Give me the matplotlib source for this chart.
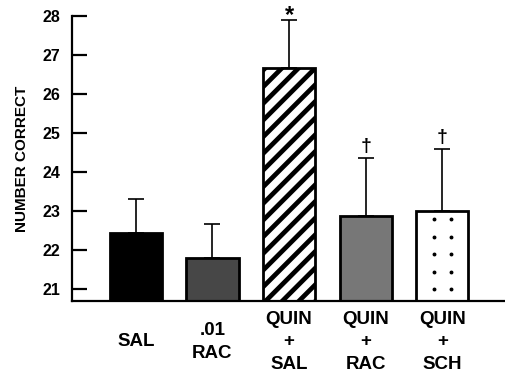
import numpy as np
import matplotlib
matplotlib.use("Agg")
import matplotlib.pyplot as plt

plt.rcParams["font.family"] = ["Liberation Sans", "DejaVu Sans"]
plt.rcParams["font.weight"] = "bold"
plt.rcParams["hatch.linewidth"] = 3.4

# values
groups = ["SAL", ".01\nRAC", "QUIN\n+\nSAL", "QUIN\n+\nRAC", "QUIN\n+\nSCH"]
means = [22.44, 21.80, 26.67, 22.87, 23.00]
sems = [0.87, 0.87, 1.23, 1.49, 1.60]
marks = ["", "", "*", "\u2020", "\u2020"]
yticks = [21, 22, 23, 24, 25, 26, 27, 28]

faces = ["black", "#474747", "white", "#777777", "white"]
hatches = [None, None, "//", None, None]
BASE = 20.7

fig = plt.figure(figsize=(5.06, 3.72), dpi=100)
ax = fig.add_axes([0.142, 0.191, 0.858, 0.766])

x = list(range(len(groups)))
for i in x:
    ax.bar(i, means[i] - BASE, bottom=BASE, width=0.68, color=faces[i],
           edgecolor="black", linewidth=2, hatch=hatches[i], zorder=2)
    ax.errorbar(i, means[i], yerr=[[0], [sems[i]]], color="black",
                capsize=5.5, capthick=1.2, elinewidth=1.2, zorder=1)
    if marks[i] == "*":
        ax.text(i, means[i] + sems[i] + 0.1, marks[i], ha="center", va="center",
                fontsize=17, fontweight="bold", clip_on=False)
    elif marks[i]:
        ax.text(i, means[i] + sems[i] + 0.08, marks[i], ha="center", va="bottom",
                fontsize=14, fontweight="bold", clip_on=False)

# sparse dot stipple on the last bar
rows = np.arange(21.0, means[4] - 0.1, 0.45)
for dx in (-0.11, 0.11):
    ax.plot([4 + dx] * len(rows), rows, ls="none", marker="o", ms=1.8,
            color="black", zorder=3)

ax.set_xlim(-0.835, 4.83)
ax.set_ylim(BASE, 28.0)
ax.set_yticks(yticks)
ax.set_yticklabels([str(t) for t in yticks], fontsize=11.5, fontweight="bold")
ax.tick_params(axis="y", direction="in", length=11, width=1.6, pad=8)
ax.set_xticks([])
for i, g in enumerate(groups):
    ax.text(i, BASE - 1.05, g, ha="center", va="center", fontsize=13.5,
            fontweight="bold", linespacing=1.4)

ax.spines["top"].set_visible(False)
ax.spines["right"].set_visible(False)
ax.spines["left"].set_linewidth(1.6)
ax.spines["bottom"].set_linewidth(1.6)
ax.set_ylabel("NUMBER CORRECT", fontsize=11, fontweight="bold", labelpad=10)

fig.savefig("out.png", dpi=100)
